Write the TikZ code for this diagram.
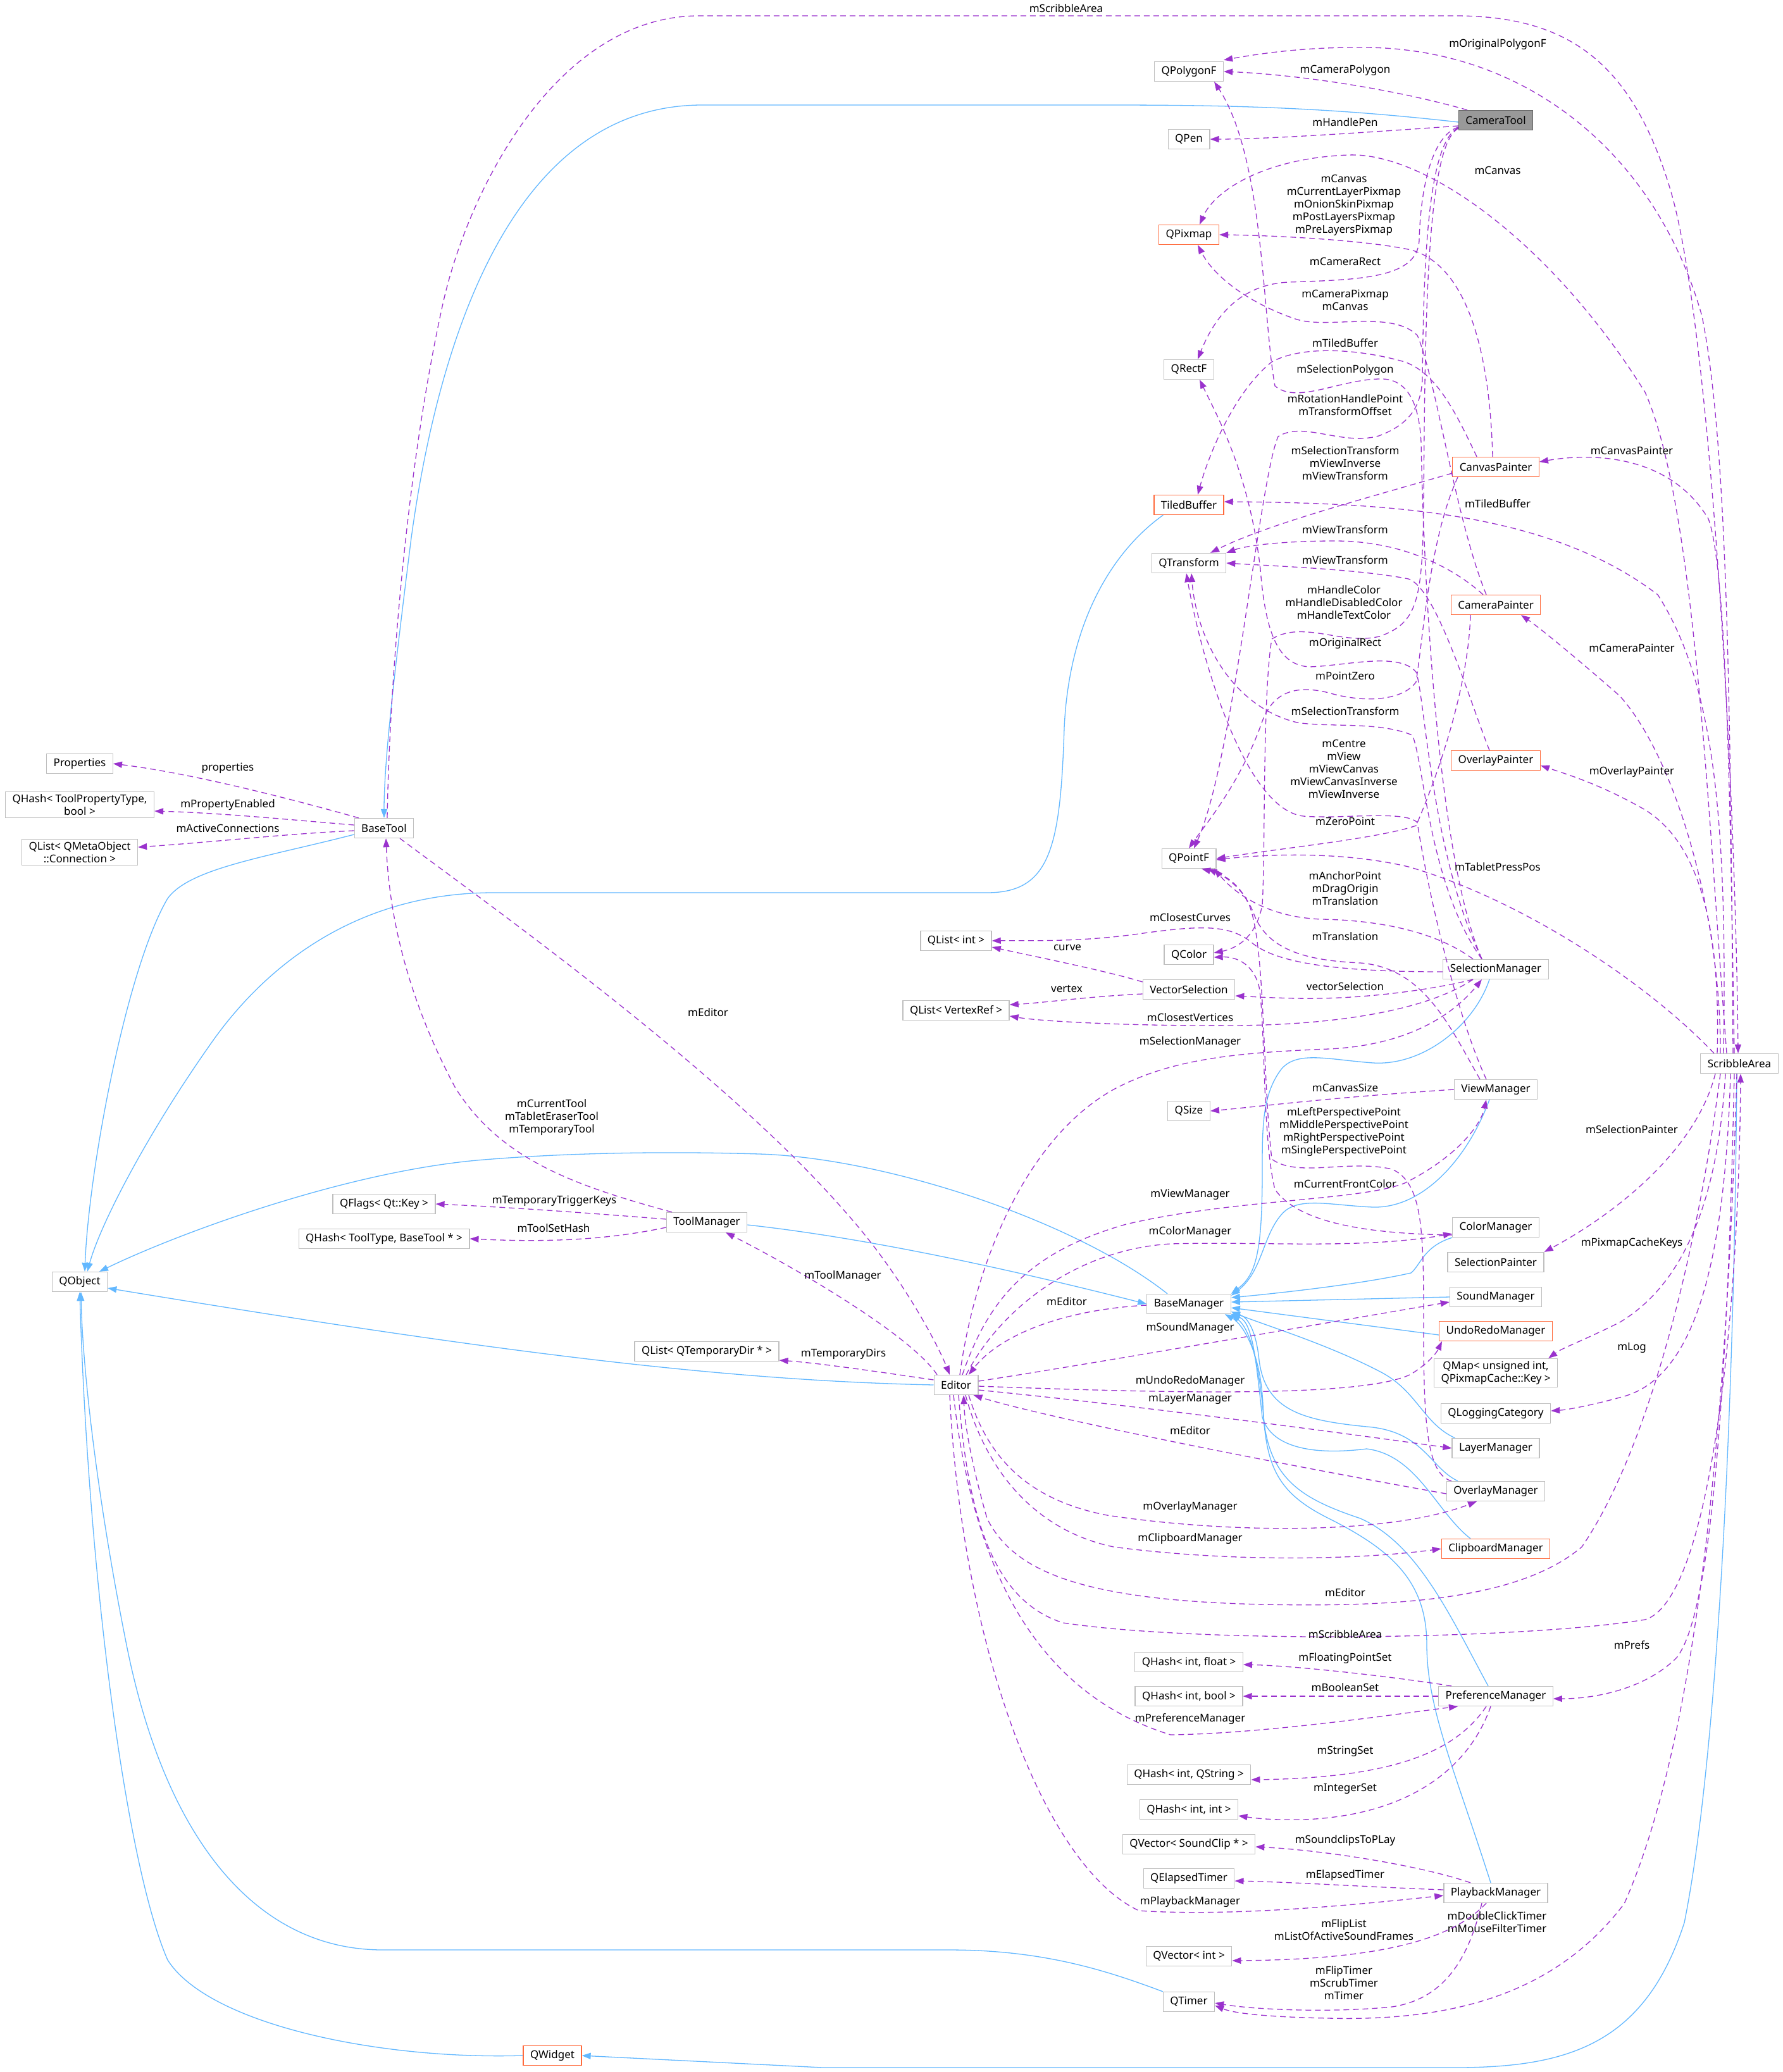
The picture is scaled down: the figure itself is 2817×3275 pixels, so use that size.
\documentclass[tikz,border=0pt]{standalone}
\usepackage{fontspec}
\usepackage{tikz}
\usetikzlibrary{arrows.meta}
\newfontfamily\dotfont{Noto Sans}
\definecolor{cBorder}{RGB}{191,191,191}
\definecolor{cExt}{RGB}{255,106,60}
\definecolor{cFocus}{RGB}{153,153,153}
\definecolor{cFocusB}{RGB}{102,102,102}
\definecolor{cInh}{RGB}{99,184,255}
\definecolor{cUse}{RGB}{154,50,205}
\tikzset{
	cls/.style      ={rectangle, draw=cBorder, line width=1.3pt, fill=white, inner xsep=11pt, inner ysep=4pt, minimum height=31pt, align=center, font=\dotfont\fontsize{17}{20}\selectfont},
	ext/.style      ={cls, draw=cExt},
	focusbox/.style ={cls, draw=cFocusB, fill=cFocus},
	% edges: inheritance and usage
	inhedge/.style  ={draw=cInh, line width=1.3pt, -{Triangle[length=14pt,width=10pt]}},
	useedge/.style  ={draw=cUse, line width=1.3pt, dash pattern=on 9pt off 6pt, -{Triangle[length=14pt,width=10pt]}},
	lbl/.style      ={font=\dotfont\fontsize{17}{20}\selectfont, align=center, inner sep=0pt},
}
\begin{document}
\begin{tikzpicture}[x=1pt, y=-1pt]
	\useasboundingbox[fill=white] (0,0) rectangle (2817,3275);
	% left side
	\node[cls] (Properties) at (126,1207) {Properties};
	\node[cls] (PropHash) at (126,1272) {QHash< ToolPropertyType,\\bool >};
	\node[cls] (ConnList) at (126,1347) {QList< QMetaObject\\::Connection >};
	\node[cls] (QObject) at (126,2026) {QObject};
	\node[cls] (BaseTool) at (607,1309) {BaseTool};
	\node[cls] (QFlagsKey) at (607,1903) {QFlags< Qt::Key >};
	\node[cls] (ToolHash) at (607,1958) {QHash< ToolType, BaseTool * >};
	\node[ext] (QWidget) at (873,3249) {QWidget};
	\node[cls] (ToolManager) at (1117,1932) {ToolManager};
	\node[cls] (TempDirList) at (1117,2136) {QList< QTemporaryDir * >};
	\node[cls] (IntList) at (1511,1487) {QList< int >};
	\node[cls] (VertexList) at (1511,1597) {QList< VertexRef >};
	\node[cls] (Editor) at (1511,2189) {Editor};
	% value types
	\node[cls] (QPolygonF) at (1879,113) {QPolygonF};
	\node[cls] (QPen) at (1879,220) {QPen};
	\node[ext] (QPixmap) at (1879,371) {QPixmap};
	\node[cls] (QRectF) at (1879,584) {QRectF};
	\node[ext] (TiledBuffer) at (1879,798) {TiledBuffer};
	\node[cls] (QTransform) at (1879,890) {QTransform};
	\node[cls] (QPointF) at (1879,1357) {QPointF};
	\node[cls] (QColor) at (1879,1509) {QColor};
	\node[cls] (VectorSelection) at (1879,1564) {VectorSelection};
	\node[cls] (QSize) at (1879,1756) {QSize};
	\node[cls] (BaseManager) at (1879,2061) {BaseManager};
	\node[cls] (QHashIF) at (1879,2627) {QHash< int, float >};
	\node[cls] (QHashIB) at (1879,2681) {QHash< int, bool >};
	\node[cls] (QHashIS) at (1879,2805) {QHash< int, QString >};
	\node[cls] (QHashII) at (1879,2860) {QHash< int, int >};
	\node[cls] (QVectorSC) at (1879,2915) {QVector< SoundClip * >};
	\node[cls] (QElapsedTimer) at (1879,2969) {QElapsedTimer};
	\node[cls] (QVectorInt) at (1879,3092) {QVector< int >};
	\node[cls] (QTimer) at (1879,3164) {QTimer};
	% tools, painters, managers
	\node[focusbox] (CameraTool) at (2364,190) {CameraTool};
	\node[ext] (CanvasPainter) at (2364,738) {CanvasPainter};
	\node[ext] (CameraPainter) at (2364,956) {CameraPainter};
	\node[ext] (OverlayPainter) at (2364,1202) {OverlayPainter};
	\node[cls] (SelectionManager) at (2364,1532) {SelectionManager};
	\node[cls] (ViewManager) at (2364,1722) {ViewManager};
	\node[cls] (ColorManager) at (2364,1940) {ColorManager};
	\node[cls] (SelectionPainter) at (2364,1995) {SelectionPainter};
	\node[cls] (SoundManager) at (2364,2050) {SoundManager};
	\node[ext] (UndoRedoManager) at (2364,2104) {UndoRedoManager};
	\node[cls] (QMap) at (2364,2170) {QMap< unsigned int,\\QPixmapCache::Key >};
	\node[cls] (QLoggingCategory) at (2364,2234) {QLoggingCategory};
	\node[cls] (LayerManager) at (2364,2289) {LayerManager};
	\node[cls] (OverlayManager) at (2364,2357) {OverlayManager};
	\node[ext] (ClipboardManager) at (2364,2448) {ClipboardManager};
	\node[cls] (PreferenceManager) at (2364,2681) {PreferenceManager};
	\node[cls] (PlaybackManager) at (2364,2992) {PlaybackManager};
	\node[cls] (ScribbleArea) at (2749,1681) {ScribbleArea};

	% inheritance
	\draw[inhedge] ([yshift=-3pt]CameraTool.west) .. controls (2100,170) and (1950,166) .. (1750,166) -- (1110,166) .. controls (800,166) and (690,560) .. (650,850) .. controls (625,1050) and (607,1200) .. (BaseTool.north);
	\draw[inhedge] ([yshift=-10pt]BaseTool.west) .. controls (420,1355) and (300,1372) .. (265,1420) .. controls (200,1530) and (140,1850) .. ([xshift=8pt]QObject.north);
	\draw[inhedge] ([xshift=15pt]TiledBuffer.south west) .. controls (1760,870) and (1690,980) .. (1682,1150) .. controls (1676,1340) and (1660,1411) .. (1560,1411) -- (780,1411) .. controls (560,1411) and (420,1530) .. (340,1640) .. controls (240,1780) and (160,1930) .. ([xshift=12pt]QObject.north);
	\draw[inhedge] ([xshift=-34pt]BaseManager.north) .. controls (1700,1930) and (1400,1830) .. (1200,1824) .. controls (1000,1818) and (850,1826) .. (765,1833) .. controls (550,1850) and (280,1950) .. ([xshift=31pt]QObject.north);
	\draw[inhedge] ([yshift=-4pt]ToolManager.east) .. controls (1400,1960) and (1650,2020) .. (BaseManager.west);
	\draw[inhedge] (Editor.west) .. controls (1150,2182) and (800,2140) .. ([yshift=-10pt]QObject.east);
	\draw[inhedge] ([xshift=-10pt]SelectionManager.south) .. controls (2330,1620) and (2250,1685) .. (2170,1680) .. controls (2100,1675) and (2050,1660) .. (2025,1690) .. controls (1995,1730) and (1995,1780) .. (1995,1850) .. controls (1995,1980) and (1985,2015) .. (BaseManager.north east);
	\draw[inhedge] ([xshift=-10pt]ViewManager.south) .. controls (2320,1830) and (2250,1910) .. (2170,1908) .. controls (2100,1905) and (2050,1890) .. (2025,1920) .. controls (1995,1955) and (1995,2010) .. ([yshift=-3pt]BaseManager.north east);
	\draw[inhedge] (ColorManager.south west) .. controls (2250,1970) and (2245,2000) .. (2230,2012) .. controls (2150,2030) and (2020,2044) .. ([yshift=10pt]BaseManager.east);
	\draw[inhedge] (SoundManager.west) -- ([yshift=3pt]BaseManager.east);
	\draw[inhedge] ([yshift=-6pt]UndoRedoManager.west) -- ([yshift=-6pt]BaseManager.east);
	\draw[inhedge] ([xshift=5pt]LayerManager.north west) .. controls (2250,2250) and (2240,2200) .. (2185,2170) .. controls (2100,2125) and (2000,2095) .. ([yshift=4pt]BaseManager.south east);
	\draw[inhedge] ([xshift=-60pt]OverlayManager.north) .. controls (2260,2320) and (2250,2262) .. (2160,2255) .. controls (2060,2245) and (2000,2230) .. (1990,2150) .. controls (1985,2100) and (1970,2080) .. (BaseManager.south east);
	\draw[inhedge] ([xshift=-40pt]ClipboardManager.north) .. controls (2270,2390) and (2240,2300) .. (2160,2290) .. controls (2080,2300) and (2010,2290) .. (1995,2240) .. controls (1985,2150) and (1980,2090) .. (BaseManager.south east);
	\draw[inhedge] ([xshift=-12pt]PreferenceManager.north) .. controls (2290,2550) and (2240,2440) .. (2150,2400) .. controls (2060,2370) and (2010,2340) .. (1998,2250) .. controls (1990,2150) and (1975,2100) .. (BaseManager.south east);
	\draw[inhedge] ([xshift=-8pt]PlaybackManager.north) .. controls (2300,2800) and (2255,2700) .. (2255,2600) .. controls (2255,2500) and (2200,2450) .. (2100,2400) .. controls (2020,2360) and (2000,2320) .. (1996,2220) .. controls (1992,2130) and (1960,2090) .. ([xshift=-10pt]BaseManager.south east);
	\draw[inhedge] (QTimer.north west) .. controls (1750,3115) and (1650,3082) .. (1500,3082) -- (605,3082) .. controls (400,3082) and (260,2900) .. (200,2600) .. controls (150,2350) and (130,2150) .. ([xshift=2pt]QObject.south);
	\draw[inhedge] (QWidget.west) .. controls (600,3256) and (330,3200) .. (265,3098) .. controls (200,2950) and (140,2500) .. (QObject.south);
	\draw[inhedge] ([xshift=-4pt]ScribbleArea.south) .. controls (2740,2300) and (2710,2800) .. (2662,3039) .. controls (2600,3230) and (2480,3268) .. (2300,3268) -- (1300,3268) -- (QWidget.east);

	% BaseTool members
	\draw[useedge] ([xshift=-40pt]BaseTool.north) .. controls (450,1260) and (300,1222) .. (Properties.east) node[lbl] at (360,1214) {properties};
	\draw[useedge] ([yshift=5pt]BaseTool.west) .. controls (450,1295) and (350,1285) .. ([yshift=-10pt]PropHash.east) node[lbl] at (360,1272) {mPropertyEnabled};
	\draw[useedge] ([yshift=-4pt]BaseTool.west) .. controls (450,1318) and (350,1330) .. ([yshift=8pt]ConnList.east) node[lbl] at (360,1309) {mActiveConnections};
	\draw[useedge] ([xshift=5pt]BaseTool.north) .. controls (615,1100) and (640,750) .. (700,480) .. controls (740,300) and (880,25) .. (1105,25) -- (2300,25) .. controls (2480,25) and (2580,100) .. (2640,300) .. controls (2700,500) and (2742,1200) .. ([xshift=-2pt]ScribbleArea.north) node[lbl] at (1685,13) {mScribbleArea};
	\draw[useedge] ([xshift=25pt]BaseTool.south) .. controls (800,1450) and (1150,1700) .. (1340,1920) .. controls (1420,2010) and (1480,2120) .. ([xshift=-10pt]Editor.north) node[lbl] at (1119,1600) {mEditor};

	% CameraTool members
	\draw[useedge] ([xshift=-45pt]CameraTool.north) .. controls (2200,140) and (2050,118) .. (QPolygonF.east) node[lbl] at (2126,111) {mCameraPolygon};
	\draw[useedge] ([yshift=-9pt]CameraTool.west) .. controls (2150,210) and (2000,220) .. (QPen.east) node[lbl] at (2126,193) {mHandlePen};
	\draw[useedge] ([yshift=-11pt]CameraTool.west) .. controls (2262,215) and (2245,300) .. (2243,380) .. controls (2240,440) and (2150,442) .. (2036,446) .. controls (1960,450) and (1920,500) .. ([xshift=14pt]QRectF.north) node[lbl] at (2126,413) {mCameraRect};
	\draw[useedge] ([yshift=-12pt]CameraTool.west) .. controls (2258,225) and (2250,400) .. (2248,600) .. controls (2246,640) and (2230,670) .. (2179,689) .. controls (2120,705) and (2060,665) .. (2020,690) .. controls (1990,760) and (1950,1200) .. ([xshift=8pt]QPointF.north) node[lbl] at (2126,640) {mRotationHandlePoint\\mTransformOffset};
	\draw[useedge] ([yshift=-13pt]CameraTool.west) .. controls (2255,230) and (2252,500) .. (2250,800) .. controls (2248,950) and (2240,985) .. (2180,1006) .. controls (2120,1020) and (2060,980) .. (2010,1010) .. controls (1995,1100) and (2000,1350) .. (1995,1430) .. controls (1985,1485) and (1950,1500) .. ([yshift=3pt]QColor.east) node[lbl] at (2124,952) {mHandleColor\\mHandleDisabledColor\\mHandleTextColor};

	% painters
	\draw[useedge] ([xshift=-5pt]CanvasPainter.north) .. controls (2355,560) and (2320,420) .. (2230,395) .. controls (2150,378) and (2000,372) .. (QPixmap.east) node[lbl] at (2124,324) {mCanvas\\mCurrentLayerPixmap\\mOnionSkinPixmap\\mPostLayersPixmap\\mPreLayersPixmap};
	\draw[useedge] ([xshift=-30pt]CanvasPainter.north) .. controls (2300,650) and (2270,590) .. (2220,572) .. controls (2150,552) and (2060,545) .. (2010,572) .. controls (1950,620) and (1910,720) .. ([xshift=14pt]TiledBuffer.north) node[lbl] at (2126,542) {mTiledBuffer};
	\draw[useedge] ([yshift=-10pt]CanvasPainter.west) .. controls (2150,790) and (2000,830) .. ([xshift=34pt]QTransform.north) node[lbl] at (2126,732) {mSelectionTransform\\mViewInverse\\mViewTransform};
	\draw[useedge] ([xshift=-60pt]CanvasPainter.south) .. controls (2260,850) and (2250,1000) .. (2238,1078) .. controls (2215,1110) and (2150,1110) .. (2100,1095) .. controls (2040,1080) and (2010,1100) .. (1995,1140) .. controls (1960,1240) and (1900,1310) .. (QPointF.north) node[lbl] at (2126,1068) {mPointZero};
	\draw[useedge] ([xshift=-15pt]CameraPainter.north) .. controls (2300,820) and (2270,600) .. (2240,530) .. controls (2200,490) and (2100,520) .. (2050,505) .. controls (1980,482) and (1920,440) .. ([xshift=14pt]QPixmap.south) node[lbl] at (2126,474) {mCameraPixmap\\mCanvas};
	\draw[useedge] ([xshift=-20pt]CameraPainter.north) .. controls (2300,900) and (2220,855) .. (2110,855) .. controls (2030,855) and (1970,862) .. (QTransform.north east) node[lbl] at (2126,837) {mViewTransform};
	\draw[useedge] ([xshift=-40pt]CameraPainter.south) .. controls (2320,1100) and (2262,1250) .. (2238,1305) .. controls (2180,1325) and (2030,1340) .. (QPointF.east) node[lbl] at (2126,1298) {mZeroPoint};
	\draw[useedge] ([xshift=-10pt]OverlayPainter.north) .. controls (2320,1100) and (2270,930) .. (2226,915) .. controls (2150,900) and (2020,895) .. (QTransform.east) node[lbl] at (2126,885) {mViewTransform};

	% SelectionManager members
	\draw[useedge] ([xshift=-22pt]SelectionManager.north) .. controls (2270,1350) and (2250,900) .. (2246,700) .. controls (2243,630) and (2220,600) .. (2185,599) .. controls (2120,598) and (2050,640) .. (2015,610) .. controls (1995,500) and (1998,250) .. ([xshift=40pt]QPolygonF.south) node[lbl] at (2126,585) {mSelectionPolygon};
	\draw[useedge] ([xshift=-22pt]SelectionManager.north) .. controls (2262,1350) and (2252,1100) .. (2238,1062) .. controls (2210,1030) and (2130,1052) .. (2070,1054) .. controls (2020,1052) and (2000,1000) .. (1992,900) .. controls (1975,750) and (1925,660) .. ([xshift=17pt]QRectF.south) node[lbl] at (2126,1017) {mOriginalRect};
	\draw[useedge] ([xshift=-22pt]SelectionManager.north) .. controls (2258,1400) and (2250,1200) .. (2232,1162) .. controls (2180,1140) and (2100,1150) .. (2050,1142) .. controls (1940,1115) and (1890,1000) .. ([xshift=4pt]QTransform.south) node[lbl] at (2126,1124) {mSelectionTransform};
	\draw[useedge] ([xshift=-36pt]SelectionManager.north) .. controls (2280,1480) and (2200,1455) .. (2090,1453) .. controls (2000,1450) and (1950,1410) .. ([xshift=40pt]QPointF.south) node[lbl] at (2126,1404) {mAnchorPoint\\mDragOrigin\\mTranslation};
	\draw[useedge] ([yshift=-4pt]SelectionManager.west) .. controls (2100,1536) and (2010,1520) .. (1975,1487) .. controls (1940,1462) and (1900,1462) .. (1800,1476) .. controls (1700,1490) and (1620,1486) .. (IntList.east) node[lbl] at (1881,1450) {mClosestCurves};
	\draw[useedge] ([xshift=-36pt]SelectionManager.south) .. controls (2260,1565) and (2150,1580) .. (2050,1578) .. controls (2000,1577) and (1975,1575) .. ([yshift=-10pt]VectorSelection.east) node[lbl] at (2126,1559) {vectorSelection};
	\draw[useedge] ([xshift=-36pt]SelectionManager.south) .. controls (2250,1600) and (2100,1620) .. (1950,1621) .. controls (1800,1622) and (1650,1615) .. ([yshift=-9pt]VertexList.east) node[lbl] at (1881,1608) {mClosestVertices};
	\draw[useedge] ([yshift=12pt]VectorSelection.west) .. controls (1750,1535) and (1650,1515) .. ([yshift=-10pt]IntList.east) node[lbl] at (1687,1498) {curve};
	\draw[useedge] ([yshift=-7pt]VectorSelection.west) .. controls (1720,1575) and (1650,1585) .. ([yshift=9pt]VertexList.east) node[lbl] at (1686,1563) {vertex};

	% ViewManager, ColorManager, OverlayManager members
	\draw[useedge] ([xshift=-15pt]ViewManager.north) .. controls (2300,1600) and (2255,1400) .. (2240,1300) .. controls (2220,1280) and (2120,1295) .. (2060,1290) .. controls (1970,1280) and (1900,1050) .. ([xshift=-4pt]QTransform.south) node[lbl] at (2124,1215) {mCentre\\mView\\mViewCanvas\\mViewCanvasInverse\\mViewInverse};
	\draw[useedge] ([xshift=-25pt]ViewManager.north) .. controls (2290,1620) and (2250,1530) .. (2150,1522) .. controls (2060,1518) and (2000,1500) .. (1980,1440) .. controls (1962,1400) and (1935,1385) .. ([xshift=30pt]QPointF.south) node[lbl] at (2126,1480) {mTranslation};
	\draw[useedge] (ViewManager.west) .. controls (2100,1735) and (2000,1748) .. (QSize.east) node[lbl] at (2126,1719) {mCanvasSize};
	\draw[useedge] ([yshift=-12pt]ColorManager.west) .. controls (2150,1950) and (2050,1930) .. (2015,1880) .. controls (1995,1800) and (2000,1620) .. (1990,1560) .. controls (1980,1520) and (1950,1512) .. ([yshift=-4pt]QColor.east) node[lbl] at (2126,1871) {mCurrentFrontColor};
	\draw[useedge] ([xshift=-70pt]OverlayManager.north) .. controls (2255,2330) and (2250,2250) .. (2250,2100) .. controls (2250,1950) and (2250,1870) .. (2200,1848) .. controls (2130,1832) and (2050,1862) .. (2010,1832) .. controls (1995,1700) and (2000,1500) .. (1975,1432) .. controls (1958,1395) and (1935,1382) .. ([xshift=20pt]QPointF.south) node[lbl] at (2124,1789) {mLeftPerspectivePoint\\mMiddlePerspectivePoint\\mRightPerspectivePoint\\mSinglePerspectivePoint};

	% ToolManager members
	\draw[useedge] ([xshift=-55pt]ToolManager.north) .. controls (900,1872) and (790,1830) .. (720,1720) .. controls (645,1580) and (615,1450) .. ([xshift=3pt]BaseTool.south) node[lbl] at (872,1766) {mCurrentTool\\mTabletEraserTool\\mTemporaryTool};
	\draw[useedge] ([yshift=5pt]ToolManager.west) .. controls (900,1915) and (800,1908) .. (QFlagsKey.east) node[lbl] at (876,1898) {mTemporaryTriggerKeys};
	\draw[useedge] ([yshift=-8pt]ToolManager.west) .. controls (950,1962) and (850,1963) .. (ToolHash.east) node[lbl] at (875,1941) {mToolSetHash};

	% Editor members
	\draw[useedge] ([xshift=-30pt]Editor.north) .. controls (1440,2110) and (1250,2000) .. ([xshift=30pt]ToolManager.south) node[lbl] at (1332,2017) {mToolManager};
	\draw[useedge] ([yshift=8pt]Editor.west) .. controls (1400,2170) and (1300,2155) .. ([yshift=-14pt]TempDirList.east) node[lbl] at (1333,2140) {mTemporaryDirs};
	\draw[useedge] ([xshift=6pt]Editor.north) .. controls (1540,2000) and (1620,1800) .. (1760,1722) .. controls (1850,1674) and (1950,1664) .. (2100,1658) .. controls (2230,1652) and (2300,1600) .. ([xshift=-22pt]SelectionManager.south) node[lbl] at (1881,1647) {mSelectionManager};
	\draw[useedge] ([xshift=10pt]Editor.north) .. controls (1560,2060) and (1620,1980) .. (1780,1935) .. controls (1950,1895) and (2150,1898) .. (2220,1870) .. controls (2300,1830) and (2340,1780) .. ([xshift=-15pt]ViewManager.south) node[lbl] at (1881,1888) {mViewManager};
	\draw[useedge] ([xshift=16pt]Editor.north) .. controls (1580,2070) and (1700,1975) .. (1850,1966) .. controls (2000,1962) and (2150,1975) .. ([yshift=-10pt]ColorManager.west) node[lbl] at (1881,1947) {mColorManager};
	\draw[useedge] ([yshift=-2pt]BaseManager.west) .. controls (1680,2070) and (1580,2110) .. ([xshift=20pt]Editor.north) node[lbl] at (1686,2057) {mEditor};
	\draw[useedge] ([yshift=6pt]Editor.east) .. controls (1700,2160) and (2100,2090) .. ([yshift=-8pt]SoundManager.west) node[lbl] at (1881,2099) {mSoundManager};
	\draw[useedge] ([yshift=-2pt]Editor.east) .. controls (1800,2200) and (2150,2212) .. (2230,2172) .. controls (2262,2152) and (2272,2135) .. ([xshift=-85pt]UndoRedoManager.south) node[lbl] at (1881,2183) {mUndoRedoManager};
	\draw[useedge] ([yshift=-8pt]Editor.east) .. controls (1800,2222) and (2100,2262) .. (LayerManager.west) node[lbl] at (1881,2211) {mLayerManager};
	\draw[useedge] ([yshift=-4pt]OverlayManager.west) .. controls (2000,2310) and (1650,2240) .. ([xshift=-8pt]Editor.south east) node[lbl] at (1881,2261) {mEditor};
	\draw[useedge] ([xshift=20pt]Editor.south) .. controls (1560,2300) and (1620,2370) .. (1750,2395) .. controls (1950,2425) and (2200,2425) .. ([xshift=-30pt]OverlayManager.south) node[lbl] at (1881,2382) {mOverlayManager};
	\draw[useedge] ([xshift=15pt]Editor.south) .. controls (1560,2330) and (1640,2420) .. (1760,2445) .. controls (1950,2470) and (2150,2465) .. (ClipboardManager.west) node[lbl] at (1881,2432) {mClipboardManager};
	\draw[useedge] ([xshift=4pt]Editor.south) .. controls (1530,2400) and (1570,2530) .. (1680,2565) .. controls (1900,2598) and (2400,2592) .. (2600,2560) .. controls (2700,2530) and (2748,2100) .. ([xshift=2pt]ScribbleArea.south) node[lbl] at (2126,2583) {mScribbleArea};
	\draw[useedge] ([xshift=-4pt]Editor.south) .. controls (1540,2500) and (1650,2680) .. (1850,2742) .. controls (2000,2740) and (2200,2710) .. ([xshift=-60pt]PreferenceManager.south) node[lbl] at (1881,2717) {mPreferenceManager};
	\draw[useedge] ([xshift=-10pt]Editor.south) .. controls (1520,2600) and (1650,2950) .. (1800,3020) .. controls (1950,3030) and (2150,3010) .. ([yshift=-4pt]PlaybackManager.west) node[lbl] at (1881,3006) {mPlaybackManager};

	% ScribbleArea members
	\draw[useedge] ([xshift=-10pt]ScribbleArea.north) .. controls (2735,1100) and (2730,700) .. (2690,500) .. controls (2620,250) and (2420,78) .. (2160,75) .. controls (2060,74) and (1990,85) .. ([yshift=2pt]QPolygonF.north east) node[lbl] at (2367,70) {mOriginalPolygonF};
	\draw[useedge] ([xshift=-20pt]ScribbleArea.north) .. controls (2700,1300) and (2680,800) .. (2600,620) .. controls (2450,380) and (2250,240) .. (2131,245) .. controls (2000,250) and (1920,300) .. ([xshift=17pt]QPixmap.north) node[lbl] at (2367,269) {mCanvas};
	\draw[useedge] ([xshift=-8pt]ScribbleArea.north) .. controls (2735,1300) and (2730,900) .. (2700,820) .. controls (2640,720) and (2520,715) .. ([yshift=8pt]CanvasPainter.east) node[lbl] at (2579,712) {mCanvasPainter};
	\draw[useedge] ([xshift=-25pt]ScribbleArea.north) .. controls (2730,1300) and (2710,1080) .. (2620,940) .. controls (2450,810) and (2200,795) .. ([yshift=5pt]TiledBuffer.east) node[lbl] at (2367,796) {mTiledBuffer};
	\draw[useedge] ([xshift=-30pt]ScribbleArea.north) .. controls (2720,1450) and (2650,1200) .. (2560,1100) .. controls (2480,1030) and (2430,990) .. ([xshift=40pt]CameraPainter.south) node[lbl] at (2579,1024) {mCameraPainter};
	\draw[useedge] ([xshift=-35pt]ScribbleArea.north) .. controls (2720,1450) and (2680,1330) .. (2600,1280) .. controls (2530,1240) and (2480,1225) .. ([yshift=-8pt]OverlayPainter.east) node[lbl] at (2579,1220) {mOverlayPainter};
	\draw[useedge] ([xshift=-40pt]ScribbleArea.north) .. controls (2600,1550) and (2400,1420) .. (2226,1370) .. controls (2120,1345) and (2000,1350) .. ([yshift=-2pt]QPointF.east) node[lbl] at (2367,1370) {mTabletPressPos};
	\draw[useedge] ([xshift=-38pt]ScribbleArea.south) .. controls (2680,1820) and (2550,1920) .. (SelectionPainter.north east) node[lbl] at (2579,1785) {mSelectionPainter};
	\draw[useedge] ([xshift=-22pt]ScribbleArea.south) .. controls (2715,1900) and (2660,2030) .. (2560,2090) .. controls (2500,2120) and (2470,2130) .. ([xshift=-15pt]QMap.north east) node[lbl] at (2579,1965) {mPixmapCacheKeys};
	\draw[useedge] ([xshift=-14pt]ScribbleArea.south) .. controls (2725,2050) and (2660,2180) .. (2567,2207) .. controls (2520,2220) and (2480,2228) .. ([yshift=4pt]QLoggingCategory.east) node[lbl] at (2579,2130) {mLog};
	\draw[useedge] ([xshift=-30pt]ScribbleArea.south) .. controls (2680,2000) and (2600,2300) .. (2500,2445) .. controls (2400,2530) and (2200,2540) .. (2000,2536) .. controls (1700,2530) and (1600,2480) .. (1560,2400) .. controls (1540,2330) and (1525,2260) .. ([xshift=12pt]Editor.south) node[lbl] at (2126,2517) {mEditor};
	\draw[useedge] ([xshift=-8pt]ScribbleArea.south) .. controls (2730,2200) and (2705,2550) .. (2650,2620) .. controls (2600,2670) and (2520,2685) .. ([yshift=-4pt]PreferenceManager.east) node[lbl] at (2579,2600) {mPrefs};
	\draw[useedge] ([xshift=-4pt]ScribbleArea.south) .. controls (2725,2400) and (2660,2800) .. (2567,3009) .. controls (2460,3150) and (2300,3195) .. (2100,3190) .. controls (2000,3188) and (1950,3182) .. ([yshift=-6pt]QTimer.east) node[lbl] at (2366,3038) {mDoubleClickTimer\\mMouseFilterTimer};

	% PreferenceManager and PlaybackManager members
	\draw[useedge] ([xshift=-70pt]PreferenceManager.north) .. controls (2200,2650) and (2050,2633) .. ([yshift=-4pt]QHashIF.east) node[lbl] at (2126,2621) {mFloatingPointSet};
	\draw[useedge] (PreferenceManager.west) -- (QHashIB.east) node[lbl] at (2126,2667) {mBooleanSet};
	\draw[useedge] ([xshift=-15pt]PreferenceManager.south) .. controls (2300,2770) and (2200,2810) .. ([yshift=-8pt]QHashIS.east) node[lbl] at (2126,2768) {mStringSet};
	\draw[useedge] ([xshift=-8pt]PreferenceManager.south) .. controls (2320,2800) and (2220,2870) .. (2060,2876) .. controls (2010,2877) and (1985,2874) .. ([yshift=-10pt]QHashII.east) node[lbl] at (2126,2827) {mIntegerSet};
	\draw[useedge] ([xshift=-40pt]PlaybackManager.north) .. controls (2250,2950) and (2100,2925) .. ([yshift=-4pt]QVectorSC.east) node[lbl] at (2126,2909) {mSoundclipsToPLay};
	\draw[useedge] ([yshift=5pt]PlaybackManager.west) .. controls (2150,2982) and (2050,2975) .. ([yshift=-4pt]QElapsedTimer.east) node[lbl] at (2126,2964) {mElapsedTimer};
	\draw[useedge] ([xshift=-15pt]PlaybackManager.south) .. controls (2300,3060) and (2200,3097) .. ([yshift=-7pt]QVectorInt.east) node[lbl] at (2124,3050) {mFlipList\\mListOfActiveSoundFrames};
	\draw[useedge] ([xshift=-22pt]PlaybackManager.south) .. controls (2320,3100) and (2280,3160) .. (2200,3172) .. controls (2100,3182) and (1980,3176) .. ([yshift=-2pt]QTimer.east) node[lbl] at (2124,3134) {mFlipTimer\\mScrubTimer\\mTimer};
\end{tikzpicture}
\end{document}
